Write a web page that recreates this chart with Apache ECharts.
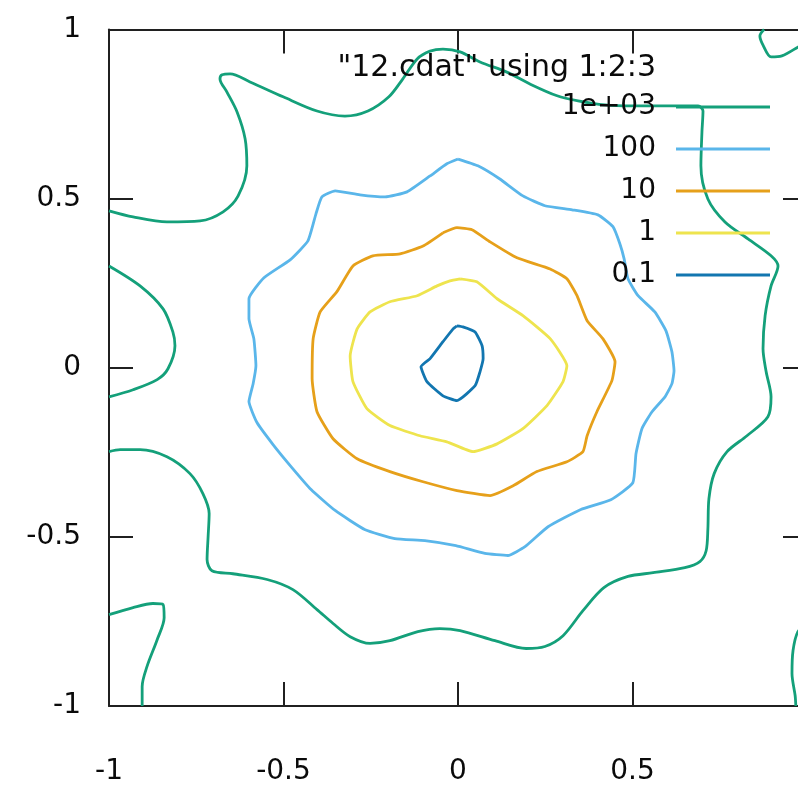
<!DOCTYPE html>
<html><head><meta charset="utf-8">
<script src="https://cdn.jsdelivr.net/npm/echarts@6/dist/echarts.min.js"></script>
<style>html,body{margin:0;padding:0;background:#fff}#c{width:798px;height:789px}</style>
</head><body><div id="c"></div>
<script>
// ---- data ----
const chartTitle = '"12.cdat" using 1:2:3';
const levels = ['1e+03', '100', '10', '1', '0.1'];
const xTicks = [-1, -0.5, 0, 0.5, 1];
const yTicks = [-1, -0.5, 0, 0.5, 1];

// contour level 1e+03 (several pieces)
const c1000a = [[-1.000,0.464],[-0.931,0.446],[-0.834,0.431],[-0.739,0.434],[-0.673,0.461],[-0.630,0.508],[-0.605,0.597],[-0.610,0.677],[-0.633,0.756],[-0.662,0.815],[-0.682,0.854],[-0.676,0.866],[-0.653,0.869],[-0.596,0.845],[-0.501,0.801],[-0.404,0.759],[-0.324,0.744],[-0.258,0.759],[-0.198,0.801],[-0.158,0.854],[-0.117,0.913],[-0.080,0.936],[-0.043,0.942],[0.006,0.934],[0.063,0.904],[0.140,0.874],[0.206,0.839],[0.284,0.804],[0.344,0.789],[0.421,0.777],[0.496,0.774],[0.593,0.774],[0.688,0.774],[0.702,0.759],[0.699,0.697],[0.696,0.597],[0.716,0.499],[0.765,0.431],[0.831,0.381],[0.897,0.331],[0.917,0.301],[0.897,0.242],[0.880,0.154],[0.874,0.056],[0.883,-0.012],[0.897,-0.086],[0.888,-0.145],[0.828,-0.201],[0.771,-0.248],[0.734,-0.313],[0.719,-0.387],[0.716,-0.476],[0.711,-0.541],[0.693,-0.573],[0.650,-0.591],[0.559,-0.606],[0.487,-0.617],[0.418,-0.650],[0.358,-0.718],[0.301,-0.792],[0.249,-0.824],[0.195,-0.830],[0.106,-0.807],[0.006,-0.777],[-0.052,-0.771],[-0.115,-0.780],[-0.195,-0.807],[-0.252,-0.815],[-0.309,-0.795],[-0.358,-0.756],[-0.404,-0.715],[-0.473,-0.656],[-0.547,-0.626],[-0.645,-0.609],[-0.705,-0.600],[-0.719,-0.567],[-0.716,-0.499],[-0.713,-0.431],[-0.731,-0.372],[-0.768,-0.313],[-0.834,-0.263],[-0.911,-0.242],[-0.968,-0.242],[-1.000,-0.248]];
const c1000b = [[-1.000,0.301],[-0.911,0.242],[-0.845,0.174],[-0.817,0.106],[-0.811,0.065],[-0.831,-0.003],[-0.862,-0.035],[-0.931,-0.065],[-1.000,-0.086]];
const c1000c = [[-1.000,-0.730],[-0.931,-0.709],[-0.874,-0.697],[-0.845,-0.700],[-0.842,-0.739],[-0.862,-0.804],[-0.891,-0.883],[-0.905,-0.942],[-0.905,-1.000]];
const c1000d = [[0.877,1.000],[0.865,0.981],[0.874,0.954],[0.897,0.919],[0.928,0.922],[0.974,0.948],[1.000,0.966]];
const c1000e = [[1.000,-0.759],[0.974,-0.780],[0.960,-0.836],[0.957,-0.904],[0.966,-0.969],[0.968,-1.000]];
// contour level 100
const c100 = [[0.000,0.617],[0.057,0.597],[0.120,0.558],[0.186,0.508],[0.249,0.479],[0.327,0.467],[0.401,0.452],[0.444,0.417],[0.464,0.366],[0.476,0.322],[0.487,0.263],[0.516,0.213],[0.564,0.165],[0.596,0.109],[0.613,0.047],[0.619,-0.009],[0.613,-0.047],[0.593,-0.086],[0.556,-0.130],[0.527,-0.180],[0.510,-0.254],[0.501,-0.340],[0.438,-0.390],[0.352,-0.419],[0.258,-0.470],[0.192,-0.529],[0.143,-0.555],[0.077,-0.549],[-0.006,-0.526],[-0.095,-0.511],[-0.181,-0.505],[-0.266,-0.479],[-0.352,-0.422],[-0.421,-0.360],[-0.476,-0.295],[-0.530,-0.227],[-0.576,-0.162],[-0.599,-0.100],[-0.587,-0.047],[-0.579,0.006],[-0.585,0.086],[-0.599,0.145],[-0.599,0.204],[-0.556,0.266],[-0.481,0.319],[-0.430,0.375],[-0.407,0.455],[-0.390,0.505],[-0.352,0.523],[-0.281,0.511],[-0.209,0.505],[-0.146,0.520],[-0.080,0.567],[-0.032,0.603],[0.000,0.617]];
// contour level 10
const c10 = [[-0.043,0.399],[-0.003,0.414],[0.040,0.408],[0.092,0.372],[0.169,0.325],[0.264,0.292],[0.312,0.263],[0.341,0.213],[0.370,0.139],[0.415,0.086],[0.450,0.018],[0.441,-0.038],[0.398,-0.130],[0.370,-0.201],[0.358,-0.248],[0.312,-0.278],[0.226,-0.307],[0.158,-0.349],[0.092,-0.378],[-0.003,-0.363],[-0.100,-0.337],[-0.195,-0.307],[-0.289,-0.269],[-0.358,-0.210],[-0.404,-0.130],[-0.418,-0.032],[-0.415,0.086],[-0.395,0.165],[-0.347,0.225],[-0.301,0.301],[-0.244,0.331],[-0.166,0.337],[-0.100,0.360],[-0.043,0.399]];
// contour level 1
const c1 = [[0.006,0.263],[0.054,0.254],[0.112,0.204],[0.186,0.154],[0.264,0.086],[0.312,0.006],[0.301,-0.041],[0.255,-0.112],[0.186,-0.180],[0.112,-0.225],[0.043,-0.248],[-0.032,-0.219],[-0.109,-0.201],[-0.195,-0.171],[-0.261,-0.121],[-0.301,-0.041],[-0.309,0.035],[-0.289,0.115],[-0.252,0.165],[-0.195,0.195],[-0.117,0.213],[-0.060,0.242],[-0.023,0.257],[0.006,0.263]];
// contour level 0.1
const c01 = [[-0.003,0.124],[0.014,0.121],[0.049,0.106],[0.069,0.065],[0.072,0.027],[0.063,-0.012],[0.049,-0.053],[-0.003,-0.097],[-0.043,-0.083],[-0.089,-0.041],[-0.106,0.003],[-0.080,0.027],[-0.043,0.077],[-0.014,0.115],[-0.003,0.124]];

// ---- styling ----
const FONT = 'DejaVu Sans';
const TXT = '#0a0a0a';
const AX = '#202020';
const colorOf = {'1e+03':'#14a07a','100':'#5ab6ea','10':'#e6a01a','1':'#eee44e','0.1':'#1276b0'};

const pieces = [
  {level:'1e+03', data:c1000a}, {level:'1e+03', data:c1000b}, {level:'1e+03', data:c1000c},
  {level:'1e+03', data:c1000d}, {level:'1e+03', data:c1000e},
  {level:'100', data:c100}, {level:'10', data:c10}, {level:'1', data:c1}, {level:'0.1', data:c01}
];

const series = pieces.map(p => ({
  type:'line', name:p.level, data:p.data, xAxisIndex:0, yAxisIndex:0,
  symbol:'none', showSymbol:false, smooth:p.level==='1e+03'?0.3:0.15,
  lineStyle:{color:colorOf[p.level], width:2.8},
  itemStyle:{color:colorOf[p.level]},
  emphasis:{disabled:true}, animation:false, clip:true, z:2
}));

function axisCommon(pos, showLabel, margin, ticks) {
  return {
    type:'value', min:ticks[0], max:ticks[ticks.length-1], interval:0.5, position:pos,
    axisLine:{show:true, onZero:false, lineStyle:{color:AX, width:2}},
    axisTick:{show:true, inside:true, length:24, lineStyle:{color:AX, width:2}},
    axisLabel:{show:showLabel, margin:margin, fontSize:28, fontFamily:FONT, color:TXT, showMaxLabel: pos==='bottom'?false:true},
    splitLine:{show:false}
  };
}

const chart = echarts.init(document.getElementById('c'), null, {renderer:'canvas'});
chart.setOption({
  backgroundColor:'#fff',
  animation:false,
  title:{text:chartTitle, right:142, top:53, padding:0,
    textStyle:{fontSize:30, fontWeight:'normal', fontFamily:FONT, color:TXT, lineHeight:30}},
  legend:{
    data:levels.map(n => ({name:n})), orient:'vertical', right:28, top:92, padding:0,
    itemGap:12, itemWidth:94, itemHeight:3, icon:'rect', align:'right', selectedMode:false,
    textStyle:{fontSize:28, fontFamily:FONT, color:TXT, lineHeight:30, padding:[0,15,0,0]}
  },
  grid:{left:109, top:29.5, width:698, height:676.5, containLabel:false, outerBoundsMode:'none'},
  xAxis:[axisCommon('bottom', true, 52, xTicks), axisCommon('top', false, 8, xTicks)],
  yAxis:[axisCommon('left', true, 28, yTicks), axisCommon('right', false, 8, yTicks)],
  series:series
});
</script></body></html>
